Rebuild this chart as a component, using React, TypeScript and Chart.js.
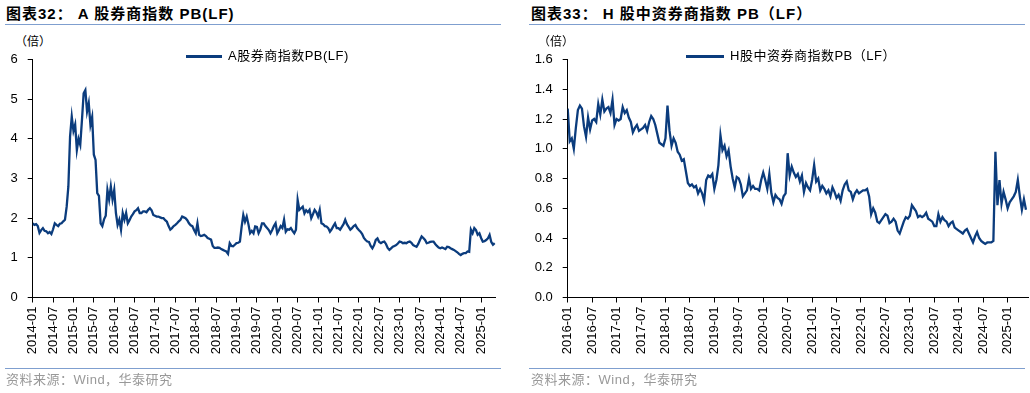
import React, { useEffect, useRef } from "react";
import { Chart, registerables } from "chart.js";

Chart.register(...registerables);

// ---- Data (semi-monthly readings) ----
// A股券商指数PB(LF): from 2014-01, one value every half month
const valuesA: number[] = [
  1.87, 1.83, 1.85, 1.80, 1.63, 1.70, 1.75, 1.68, 1.67, 1.62, 1.65, 1.60,
  1.72, 1.87, 1.83, 1.80, 1.86, 1.87, 1.92, 1.96, 2.29, 2.80, 4.06, 4.56,
  4.20, 4.36, 3.72, 4.00, 3.85, 4.47, 5.15, 5.23, 4.69, 4.90, 4.35, 4.55,
  3.60, 3.47, 2.63, 2.56, 1.87, 1.80, 1.97, 2.06, 2.71, 2.47, 2.80, 2.47,
  2.71, 2.13, 1.83, 1.96, 1.71, 2.13, 1.96, 2.13, 1.87, 1.95, 2.04, 2.10,
  2.17, 2.20, 2.25, 2.13, 2.13, 2.17, 2.17, 2.15, 2.21, 2.25, 2.20, 2.08,
  2.06, 2.04, 2.04, 2.02, 2.00, 2.00, 1.95, 1.91, 1.80, 1.71, 1.75, 1.80,
  1.83, 1.87, 1.92, 1.96, 2.04, 2.02, 2.00, 1.95, 1.87, 1.82, 1.80, 1.70,
  1.62, 1.87, 1.58, 1.55, 1.56, 1.58, 1.55, 1.50, 1.48, 1.46, 1.30, 1.25,
  1.25, 1.26, 1.25, 1.22, 1.20, 1.18, 1.16, 1.10, 1.37, 1.30, 1.29, 1.33,
  1.37, 1.38, 1.41, 1.78, 2.08, 1.91, 2.04, 1.85, 1.62, 1.68, 1.62, 1.79,
  1.78, 1.62, 1.71, 1.87, 1.87, 1.80, 1.75, 1.70, 1.62, 1.70, 1.80, 1.87,
  1.62, 1.70, 1.80, 1.75, 1.96, 1.66, 1.72, 1.71, 1.75, 1.68, 1.62, 1.71,
  2.46, 2.21, 2.25, 2.29, 2.12, 2.20, 2.15, 2.21, 2.00, 2.10, 2.21, 2.15,
  2.04, 2.21, 1.87, 1.85, 1.80, 1.79, 1.75, 1.66, 1.72, 1.80, 1.87, 1.75,
  1.75, 1.71, 1.78, 1.85, 1.96, 1.85, 1.78, 1.71, 1.75, 1.80, 1.83, 1.75,
  1.70, 1.66, 1.60, 1.50, 1.45, 1.41, 1.40, 1.30, 1.24, 1.32, 1.45, 1.49,
  1.40, 1.37, 1.40, 1.41, 1.35, 1.25, 1.20, 1.24, 1.28, 1.30, 1.32, 1.36,
  1.41, 1.40, 1.37, 1.38, 1.37, 1.40, 1.41, 1.38, 1.32, 1.30, 1.28, 1.35,
  1.45, 1.54, 1.50, 1.45, 1.37, 1.38, 1.40, 1.41, 1.41, 1.35, 1.30, 1.26,
  1.24, 1.26, 1.24, 1.22, 1.28, 1.27, 1.24, 1.22, 1.20, 1.17, 1.14, 1.10,
  1.07, 1.10, 1.12, 1.12, 1.16, 1.15, 1.71, 1.62, 1.75, 1.70, 1.58, 1.62,
  1.50, 1.41, 1.42, 1.45, 1.49, 1.58, 1.40, 1.33, 1.37,
];

// H股中资券商指数PB（LF）: from 2016-01, one value every half month
const valuesH: number[] = [
  1.27, 1.05, 1.07, 1.00, 1.14, 1.26, 1.29, 1.27, 1.15, 1.08, 1.21, 1.13,
  1.19, 1.20, 1.18, 1.30, 1.23, 1.33, 1.25, 1.27, 1.28, 1.24, 1.33, 1.16,
  1.20, 1.19, 1.20, 1.28, 1.24, 1.26, 1.21, 1.18, 1.11, 1.14, 1.16, 1.12,
  1.13, 1.14, 1.16, 1.12, 1.18, 1.22, 1.20, 1.16, 1.10, 1.04, 1.03, 1.02,
  1.07, 1.29, 1.12, 1.02, 1.07, 1.04, 0.98, 0.96, 0.92, 0.93, 0.85, 0.77,
  0.75, 0.76, 0.74, 0.75, 0.70, 0.73, 0.70, 0.65, 0.79, 0.82, 0.81, 0.83,
  0.73, 0.79, 0.89, 1.09, 0.99, 1.02, 0.95, 0.99, 0.88, 0.80, 0.74, 0.81,
  0.80, 0.76, 0.68, 0.70, 0.72, 0.80, 0.73, 0.75, 0.73, 0.73, 0.72, 0.79,
  0.84, 0.79, 0.73, 0.83, 0.70, 0.64, 0.69, 0.67, 0.66, 0.63, 0.68, 0.70,
  0.97, 0.82, 0.88, 0.84, 0.81, 0.83, 0.78, 0.82, 0.71, 0.77, 0.74, 0.72,
  0.79, 0.89, 0.78, 0.80, 0.72, 0.75, 0.73, 0.70, 0.72, 0.68, 0.74, 0.71,
  0.67, 0.69, 0.65, 0.72, 0.76, 0.78, 0.72, 0.71, 0.66, 0.70, 0.72, 0.70,
  0.71, 0.72, 0.72, 0.73, 0.68, 0.56, 0.60, 0.57, 0.51, 0.50, 0.52, 0.54,
  0.56, 0.55, 0.50, 0.51, 0.53, 0.51, 0.45, 0.43, 0.47, 0.51, 0.54, 0.53,
  0.55, 0.62, 0.60, 0.58, 0.54, 0.55, 0.54, 0.55, 0.57, 0.53, 0.52, 0.51,
  0.48, 0.48, 0.56, 0.51, 0.54, 0.52, 0.51, 0.48, 0.50, 0.51, 0.47, 0.46,
  0.45, 0.44, 0.43, 0.45, 0.46, 0.43, 0.40, 0.37, 0.41, 0.44, 0.40, 0.38,
  0.37, 0.36, 0.37, 0.37, 0.37, 0.38, 0.98, 0.62, 0.79, 0.63, 0.71, 0.66,
  0.60, 0.64, 0.66, 0.68, 0.71, 0.79, 0.68, 0.59, 0.66, 0.59,
];

const xLabelsA: string[] = [
  "2014-01", "2014-07", "2015-01", "2015-07", "2016-01", "2016-07",
  "2017-01", "2017-07", "2018-01", "2018-07", "2019-01", "2019-07",
  "2020-01", "2020-07", "2021-01", "2021-07", "2022-01", "2022-07",
  "2023-01", "2023-07", "2024-01", "2024-07", "2025-01",
];
const xLabelsH: string[] = [
  "2016-01", "2016-07", "2017-01", "2017-07", "2018-01", "2018-07",
  "2019-01", "2019-07", "2020-01", "2020-07", "2021-01", "2021-07",
  "2022-01", "2022-07", "2023-01", "2023-07", "2024-01", "2024-07",
  "2025-01",
];
const yTicksA: string[] = ["0", "1", "2", "3", "4", "5", "6"];
const yTicksH: string[] = ["0.0", "0.2", "0.4", "0.6", "0.8", "1.0", "1.2", "1.4", "1.6"];

const seriesNameA = "A股券商指数PB(LF)";
const seriesNameH = "H股中资券商指数PB（LF）";

const LINE_COLOR = "#0b3c7d";
const FONT = '"Liberation Sans", Arial, "Noto Sans CJK SC", sans-serif';

type PanelProps = {
  values: number[];
  xLabels: string[];
  yTicks: string[];
  yMax: number;
  yStep: number;
  xMax: number;
  name: string;
  left: number;
  yAxisWidth: number;
  padRight: number;
};

function ChartPanel(p: PanelProps) {
  const ref = useRef<HTMLCanvasElement | null>(null);
  useEffect(() => {
    if (!ref.current) return;
    const data = p.values.map((v, i) => ({ x: i * 0.5, y: v }));
    const tickVals = p.xLabels.map((_, i) => i * 6);
    const chart = new Chart(ref.current, {
      type: "line",
      data: {
        datasets: [
          {
            label: p.name,
            data,
            borderColor: LINE_COLOR,
            backgroundColor: LINE_COLOR,
            borderWidth: 2.3,
            pointRadius: 0,
            tension: 0,
          },
        ],
      },
      options: {
        animation: false,
        responsive: false,
        maintainAspectRatio: false,
        layout: { padding: { top: 59.5, right: p.padRight, left: 0, bottom: 393 - 297.5 - 62 } },
        plugins: { legend: { display: false }, tooltip: { enabled: false } },
        scales: {
          x: {
            type: "linear",
            min: 0,
            max: p.xMax,
            afterFit: (s: any) => {
              s.height = 62;
            },
            afterBuildTicks: (s: any) => {
              s.ticks = tickVals.map((v) => ({ value: v }));
            },
            ticks: {
              autoSkip: false,
              maxRotation: 90,
              minRotation: 90,
              padding: 4,
              color: "#000",
              font: { family: FONT, size: 13 },
              callback: (_v: any, i: number) => p.xLabels[i],
            },
            grid: {
              drawOnChartArea: false,
              drawTicks: true,
              tickLength: 5,
              color: "#000",
            },
            border: { display: true, color: "#000", width: 1 },
          },
          y: {
            min: 0,
            max: p.yMax,
            afterFit: (s: any) => {
              s.width = p.yAxisWidth;
            },
            ticks: {
              stepSize: p.yStep,
              padding: 10,
              color: "#000",
              font: { family: FONT, size: 13 },
              callback: (_v: any, i: number) => p.yTicks[i],
            },
            grid: {
              drawOnChartArea: false,
              drawTicks: true,
              tickLength: 5,
              color: "#000",
            },
            border: { display: true, color: "#000", width: 1 },
          },
        },
      },
    });
    return () => chart.destroy();
  }, []);
  return (
    <canvas
      ref={ref}
      width={515}
      height={393}
      style={{ position: "absolute", left: p.left, top: 0, width: 515, height: 393 }}
    />
  );
}

const abs = (o: React.CSSProperties): React.CSSProperties => ({ position: "absolute", ...o });

export default function App() {
  const titleStyle: React.CSSProperties = {
    fontFamily: FONT,
    fontWeight: "bold",
    fontSize: 15,
    letterSpacing: 1,
    color: "#000",
    whiteSpace: "pre",
    lineHeight: "18px",
  };
  const smallStyle: React.CSSProperties = {
    fontFamily: FONT,
    fontSize: 12,
    color: "#000",
    whiteSpace: "pre",
    lineHeight: "14px",
  };
  const legendText: React.CSSProperties = {
    fontFamily: FONT,
    fontSize: 13,
    letterSpacing: 0.5,
    color: "#000",
    whiteSpace: "pre",
    lineHeight: "16px",
  };
  const sourceStyle: React.CSSProperties = {
    fontFamily: FONT,
    fontSize: 13,
    letterSpacing: 0.5,
    color: "#999",
    whiteSpace: "pre",
    lineHeight: "16px",
  };
  return (
    <div style={{ position: "fixed", left: 0, top: 0, width: 1030, height: 393, background: "#fff", overflow: "hidden" }}>
      {/* Left panel */}
      <div style={abs({ left: 6, top: 5, ...titleStyle })}>图表32： A 股券商指数 PB(LF)</div>
      <div style={abs({ left: 5, top: 24, width: 496, height: 1, background: "#7f9fcf" })} />
      <div style={abs({ left: 15, top: 35, ...smallStyle })}>（倍）</div>
      <ChartPanel
        values={valuesA}
        xLabels={xLabelsA}
        yTicks={yTicksA}
        yMax={6}
        yStep={1}
        xMax={136.3}
        name={seriesNameA}
        left={0}
        yAxisWidth={32.7}
        padRight={515 - 495.7}
      />
      <div style={abs({ left: 186, top: 55, width: 36, height: 3, background: LINE_COLOR })} />
      <div style={abs({ left: 228, top: 48, ...legendText })}>{seriesNameA}</div>
      <div style={abs({ left: 5, top: 368, width: 496, height: 1, background: "#7f9fcf" })} />
      <div style={abs({ left: 6, top: 372, ...sourceStyle })}>资料来源：Wind，华泰研究</div>

      {/* Right panel */}
      <div style={abs({ left: 531, top: 5, ...titleStyle })}>图表33： H 股中资券商指数 PB（LF）</div>
      <div style={abs({ left: 529, top: 24, width: 496, height: 1, background: "#7f9fcf" })} />
      <div style={abs({ left: 538, top: 35, ...smallStyle })}>（倍）</div>
      <ChartPanel
        values={valuesH}
        xLabels={xLabelsH}
        yTicks={yTicksH}
        yMax={1.6}
        yStep={0.2}
        xMax={113}
        name={seriesNameH}
        left={515}
        yAxisWidth={52.7}
        padRight={2}
      />
      <div style={abs({ left: 686, top: 55, width: 38, height: 3, background: LINE_COLOR })} />
      <div style={abs({ left: 730, top: 48, ...legendText })}>{seriesNameH}</div>
      <div style={abs({ left: 529, top: 368, width: 496, height: 1, background: "#7f9fcf" })} />
      <div style={abs({ left: 531, top: 372, ...sourceStyle })}>资料来源：Wind，华泰研究</div>
    </div>
  );
}
